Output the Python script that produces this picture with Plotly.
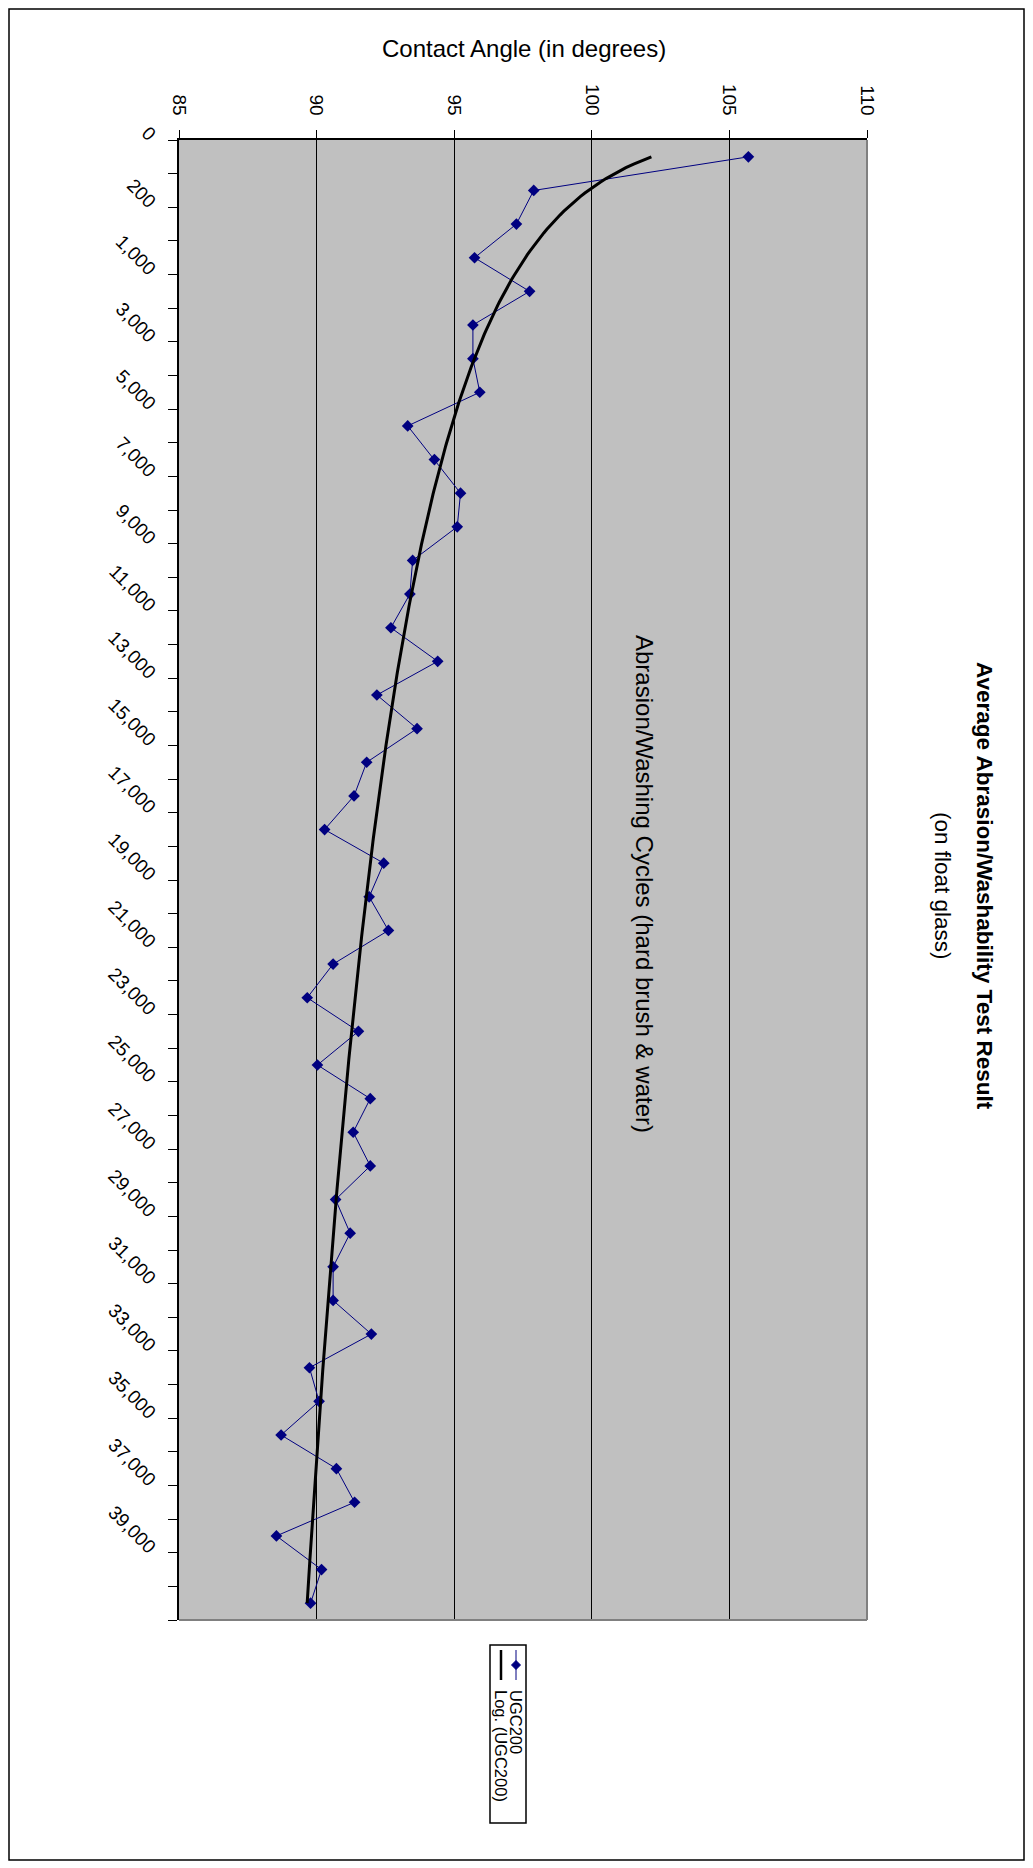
import numpy as np
import plotly.graph_objects as go

# ---------------- data ----------------
cycles = ["0", "100", "200", "500", "1,000", "2,000", "3,000", "4,000", "5,000",
          "6,000", "7,000", "8,000", "9,000", "10,000", "11,000", "12,000",
          "13,000", "14,000", "15,000", "16,000", "17,000", "18,000", "19,000",
          "20,000", "21,000", "22,000", "23,000", "24,000", "25,000", "26,000",
          "27,000", "28,000", "29,000", "30,000", "31,000", "32,000", "33,000",
          "34,000", "35,000", "36,000", "37,000", "38,000", "39,000", "40,000"]

ugc200 = [105.69, 97.89, 97.26, 95.74, 97.74, 95.68, 95.68, 95.93, 93.31, 94.28,
          95.23, 95.11, 93.49, 93.39, 92.70, 94.40, 92.19, 93.65, 91.82, 91.36,
          90.29, 92.44, 91.91, 92.61, 90.60, 89.66, 91.52, 90.03, 91.95, 91.33,
          91.95, 90.69, 91.22, 90.60, 90.60, 91.99, 89.74, 90.09, 88.71, 90.72,
          91.38, 88.54, 90.18, 89.78]

angle_ticks = [85, 90, 95, 100, 105, 110]

series_name = "UGC200"
trend_name = "Log. (UGC200)"
title_text = "Average Abrasion/Washability Test Result"
subtitle_text = "(on float glass)"
x_title = "Contact Angle (in degrees)"
y_title = "Abrasion/Washing Cycles (hard brush & water)"

# ---------------- layout geometry ----------------
W, H = 1033, 1868
OFF = 8                                 # page body margin
PL, PR, PT, PB = 179, 867, 140, 1620    # plot area (window pixels)


def px(x):
    return (x - PL) / (PR - PL)


def py(y):
    return (PB - y) / (PB - PT)


idx = np.arange(len(ugc200))
# Excel logarithmic trendline on category number 1..n
n_idx = idx + 1
a, b = np.polyfit(np.log(n_idx), np.array(ugc200), 1)
t_dense = np.linspace(1, len(ugc200), 400)
trend = a * np.log(t_dense) + b

navy = "#000080"
font_family = "Liberation Sans, Arial, sans-serif"

fig = go.Figure()
fig.add_trace(go.Scatter(
    x=ugc200, y=idx, mode="lines+markers", name=series_name,
    line=dict(color=navy, width=1),
    marker=dict(symbol="diamond", size=9, color=navy),
))
fig.add_trace(go.Scatter(
    x=trend, y=t_dense - 1, mode="lines", name=trend_name,
    line=dict(color="black", width=3),
))

fig.update_layout(
    width=W - OFF, height=H - OFF,
    margin=dict(l=PL - OFF, r=W - PR, t=PT - OFF, b=H - PB),
    paper_bgcolor="white", plot_bgcolor="#C0C0C0",
    showlegend=False,
    font=dict(family=font_family, color="black", size=19),
)

fig.update_xaxes(
    range=[angle_ticks[0], angle_ticks[-1]], side="top",
    tickmode="array", tickvals=angle_ticks, ticktext=[str(v) for v in angle_ticks],
    tickangle=90, ticks="outside", ticklen=8, tickcolor="black", tickwidth=1,
    ticklabelstandoff=8,
    showgrid=True, gridcolor="black", gridwidth=1,
    showline=True, linecolor="black", linewidth=1.5, zeroline=False,
    tickfont=dict(size=19),
)
# slanted category labels, set back from the axis like Excel does
pad = "\u00a0" * 5
fig.update_yaxes(
    range=[len(cycles) - 0.5, -0.5],
    tickmode="array", tickvals=list(idx[::2]), ticktext=[c + pad for c in cycles[::2]],
    tickangle=45, ticks="", showgrid=False, zeroline=False,
    showline=True, linecolor="black", linewidth=1.5,
    tickfont=dict(size=19),
    minor=dict(tickmode="linear", tick0=-0.5, dtick=1, ticks="outside",
               ticklen=9, tickcolor="black", showgrid=False),
)

shapes = []
# plot-area border (grey) on right and bottom
shapes.append(dict(type="line", xref="paper", yref="paper", x0=1, x1=1, y0=0, y1=1,
                   line=dict(color="#808080", width=2), layer="above"))
shapes.append(dict(type="line", xref="paper", yref="paper", x0=0, x1=1, y0=0, y1=0,
                   line=dict(color="#808080", width=2), layer="above"))
# outer chart border
shapes.append(dict(type="rect", xref="paper", yref="paper",
                   x0=px(9), x1=px(1024), y0=py(1860), y1=py(9),
                   line=dict(color="black", width=1.5)))
# legend box
LX0, LX1, LY0, LY1 = 490, 526, 1645, 1823
shapes.append(dict(type="rect", xref="paper", yref="paper",
                   x0=px(LX0), x1=px(LX1), y0=py(LY1), y1=py(LY0),
                   line=dict(color="black", width=1.5), fillcolor="white"))
# legend sample lines
e1x, e2x = 516, 501
shapes.append(dict(type="line", xref="paper", yref="paper",
                   x0=px(e1x), x1=px(e1x), y0=py(1650), y1=py(1680),
                   line=dict(color=navy, width=1)))
shapes.append(dict(type="path", xref="paper", yref="paper",
                   path=f"M {px(e1x - 4.5)} {py(1665)} L {px(e1x)} {py(1660.5)} "
                        f"L {px(e1x + 4.5)} {py(1665)} L {px(e1x)} {py(1669.5)} Z",
                   fillcolor=navy, line=dict(color=navy, width=1)))
shapes.append(dict(type="line", xref="paper", yref="paper",
                   x0=px(e2x), x1=px(e2x), y0=py(1650), y1=py(1680),
                   line=dict(color="black", width=2.5)))
fig.update_layout(shapes=shapes)

ann = []
ann.append(dict(text=f"<b>{title_text}</b>", x=px(985), y=py(886), xref="paper", yref="paper",
                showarrow=False, textangle=90, font=dict(size=22.5),
                xanchor="center", yanchor="middle"))
ann.append(dict(text=subtitle_text, x=px(943), y=py(886), xref="paper", yref="paper",
                showarrow=False, textangle=90, font=dict(size=22.5),
                xanchor="center", yanchor="middle"))
ann.append(dict(text=x_title, x=px(524), y=py(49), xref="paper", yref="paper",
                showarrow=False, font=dict(size=24),
                xanchor="center", yanchor="middle"))
ann.append(dict(text=y_title, x=px(645), y=py(884), xref="paper", yref="paper",
                showarrow=False, textangle=90, font=dict(size=24),
                xanchor="center", yanchor="middle"))
ann.append(dict(text=series_name, x=px(e1x), y=py(1688), xref="paper", yref="paper",
                showarrow=False, textangle=90, font=dict(size=16.5),
                xanchor="center", yanchor="top"))
ann.append(dict(text=trend_name, x=px(e2x), y=py(1688), xref="paper", yref="paper",
                showarrow=False, textangle=90, font=dict(size=16.5),
                xanchor="center", yanchor="top"))
fig.update_layout(annotations=ann)

fig.write_html("out.html")
